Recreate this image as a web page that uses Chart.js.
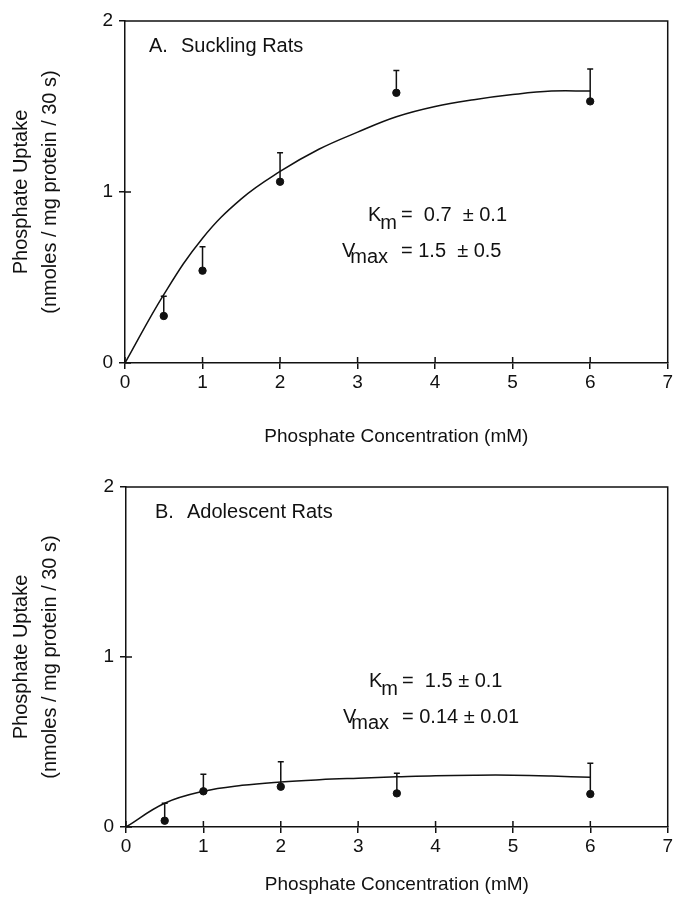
<!DOCTYPE html>
<html>
<head>
<meta charset="utf-8">
<script src="https://cdn.jsdelivr.net/npm/chart.js@4.4.1/dist/chart.umd.min.js"></script>
<style>
  body { margin: 0; background: #fff; }
  #hoja { position: relative; width: 675px; height: 911px; }
  .panel { position: absolute; left: 0; width: 675px; }
</style>
</head>
<body>
<div id="hoja">
  <div class="panel" style="top:0;height:455px"><canvas id="graficoA" width="675" height="455"></canvas></div>
  <div class="panel" style="top:455px;height:456px"><canvas id="graficoB" width="675" height="456"></canvas></div>
</div>
<script>
// Concentraciones medidas (mM) y captación media (nmoles/mg proteína/30 s)
const concentraciones = [0.5, 1, 2, 3.5, 6];
const captacionA = [0.275, 0.54, 1.06, 1.58, 1.53];
const errorSupA = [0.39, 0.68, 1.23, 1.71, 1.72];   // extremo superior de la barra de error
const captacionB = [0.037, 0.21, 0.237, 0.198, 0.194];
const errorSupB = [0.14, 0.31, 0.384, 0.316, 0.375];

// Curvas ajustadas
const curvaX = [0, 0.5, 1, 1.5, 2, 2.5, 3, 3.5, 4, 4.5, 5, 5.5, 6];
const curvaA = [0, 0.4, 0.73, 0.96, 1.12, 1.25, 1.35, 1.44, 1.5, 1.54, 1.57, 1.59, 1.59];
const curvaB = [0, 0.14, 0.21, 0.245, 0.265, 0.278, 0.287, 0.295, 0.302, 0.305, 0.305, 0.3, 0.292];

// Ejes
const ticksX = [0, 1, 2, 3, 4, 5, 6, 7];
const ticksY = [0, 1, 2];

const FUENTE = "'Liberation Sans', Arial, sans-serif";
const NEGRO = '#111';

// Dibuja marco superior/derecho, mitad interior de los ticks, barras de error y textos
const marcoPlugin = {
    id: 'marco',
    beforeDatasetsDraw(chart, args, opts) {
        const { ctx, scales: { x, y } } = chart;
        ctx.save();
        ctx.strokeStyle = NEGRO;
        ctx.lineWidth = 1.5;
        ctx.beginPath();
        opts.errores.forEach((sup, i) => {
            const px = x.getPixelForValue(concentraciones[i]);
            const p0 = y.getPixelForValue(opts.medias[i]);
            const p1 = y.getPixelForValue(sup);
            ctx.moveTo(px, p0);
            ctx.lineTo(px, p1);
            ctx.moveTo(px - 3, p1);
            ctx.lineTo(px + 3, p1);
        });
        ctx.stroke();
        ctx.restore();
    },
    afterDatasetsDraw(chart, args, opts) {
        const { ctx, chartArea: a, scales: { x, y } } = chart;
        ctx.save();
        ctx.strokeStyle = NEGRO;
        ctx.lineWidth = 1.5;
        ctx.beginPath();
        ctx.moveTo(a.left, a.top);
        ctx.lineTo(a.right, a.top);
        ctx.lineTo(a.right, a.bottom);
        ticksX.forEach(v => {
            const px = x.getPixelForValue(v);
            ctx.moveTo(px, a.bottom);
            ctx.lineTo(px, a.bottom - 6);
        });
        ticksY.forEach(v => {
            const py = y.getPixelForValue(v);
            ctx.moveTo(a.left, py);
            ctx.lineTo(a.left + 6, py);
        });
        ctx.stroke();

        ctx.fillStyle = NEGRO;
        ctx.font = '20px ' + FUENTE;
        ctx.textBaseline = 'alphabetic';
        // etiqueta del panel
        ctx.fillText(opts.letra, a.left + opts.etqX, a.top + 31);
        ctx.fillText(opts.titulo, a.left + opts.etqX + 32, a.top + 31);
        // Km y Vmax
        const xK = a.left + 243, yK = a.top + 200;
        ctx.fillText('K', xK, yK);
        ctx.fillText('m', xK + ctx.measureText('K').width - 1, yK + 8);
        ctx.fillText(opts.km, a.left + 276, yK);
        const xV = a.left + 217, yV = a.top + 236;
        ctx.fillText('V', xV, yV);
        ctx.fillText('max', xV + ctx.measureText('V').width - 5, yV + 6);
        ctx.fillText(opts.vmax, a.left + 276, yV);
        ctx.restore();
    }
};

function crearGrafico(id, medias, errores, curva, cfg) {
    const puntos = concentraciones.map((c, i) => ({ x: c, y: medias[i] }));
    const linea = curvaX.map((c, i) => ({ x: c, y: curva[i] }));
    const fuenteTicks = { family: FUENTE, size: 19 };
    const config = {
        type: 'scatter',
        data: {
            datasets: [{
                type: 'line',
                data: linea,
                borderColor: NEGRO,
                borderWidth: 1.5,
                pointRadius: 0,
                tension: 0.4,
                fill: false
            }, {
                data: puntos,
                backgroundColor: NEGRO,
                borderColor: NEGRO,
                pointRadius: 3.7
            }]
        },
        options: {
            responsive: false,
            animation: false,
            devicePixelRatio: 1,
            layout: { padding: { top: cfg.arriba, right: cfg.derecha, left: 0, bottom: 0 } },
            plugins: {
                legend: { display: false },
                tooltip: { enabled: false },
                marco: {
                    medias: medias,
                    errores: errores,
                    letra: cfg.letra,
                    titulo: cfg.titulo,
                    etqX: cfg.etqX,
                    km: cfg.km,
                    vmax: cfg.vmax
                }
            },
            scales: {
                x: {
                    type: 'linear',
                    min: 0,
                    max: 7,
                    afterFit: s => { s.height = cfg.altoX; },
                    afterBuildTicks: s => { s.ticks = ticksX.map(v => ({ value: v })); },
                    grid: { drawOnChartArea: false, color: NEGRO, lineWidth: 1.5, tickLength: 6 },
                    border: { color: NEGRO, width: 1.5 },
                    ticks: { color: NEGRO, font: fuenteTicks, padding: 2, maxRotation: 0 },
                    title: {
                        display: true,
                        text: 'Phosphate Concentration (mM)',
                        color: NEGRO,
                        font: { family: FUENTE, size: 19 },
                        padding: { top: 0, bottom: cfg.tituloX }
                    }
                },
                y: {
                    type: 'linear',
                    min: 0,
                    max: 2,
                    afterFit: s => { s.width = cfg.anchoY; },
                    afterBuildTicks: s => { s.ticks = ticksY.map(v => ({ value: v })); },
                    grid: { drawOnChartArea: false, color: NEGRO, lineWidth: 1.5, tickLength: 6 },
                    border: { color: NEGRO, width: 1.5 },
                    ticks: { color: NEGRO, font: fuenteTicks, padding: 6 },
                    title: {
                        display: true,
                        text: ['Phosphate Uptake', '(nmoles / mg protein / 30 s)'],
                        color: NEGRO,
                        font: { family: FUENTE, size: 20, lineHeight: 1.42 },
                        padding: { top: 7.5, bottom: 0 }
                    }
                }
            }
        },
        plugins: [marcoPlugin]
    };
    const ctx = document.getElementById(id).getContext('2d');
    return new Chart(ctx, config);
}

crearGrafico('graficoA', captacionA, errorSupA, curvaA, {
    arriba: 21, derecha: 7, altoX: 92, anchoY: 125, tituloX: 6.6,
    letra: 'A.', titulo: 'Suckling Rats', etqX: 24,
    km: '=  0.7  \u00B1 0.1', vmax: '= 1.5  \u00B1 0.5'
});
crearGrafico('graficoB', captacionB, errorSupB, curvaB, {
    arriba: 32, derecha: 6, altoX: 84, anchoY: 126, tituloX: 14.6,
    letra: 'B.', titulo: 'Adolescent Rats', etqX: 29,
    km: '=  1.5 \u00B1 0.1', vmax: '= 0.14 \u00B1 0.01'
});
</script>
</body>
</html>
